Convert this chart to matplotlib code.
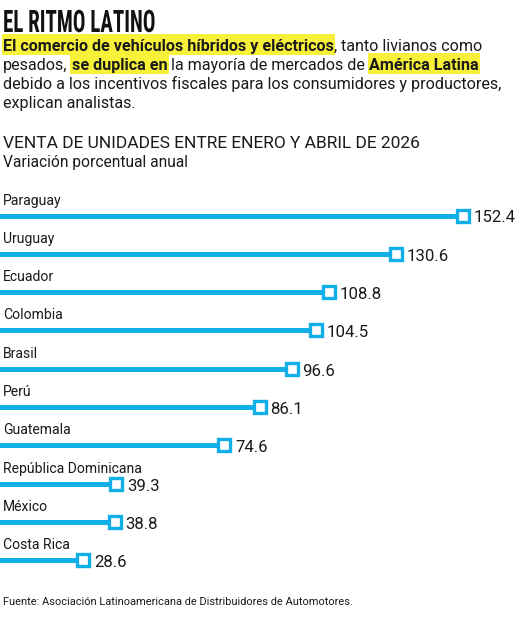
import matplotlib
matplotlib.use("Agg")
import matplotlib.pyplot as plt
from matplotlib import font_manager
from matplotlib.patches import Rectangle
from matplotlib.patheffects import AbstractPathEffect
from matplotlib.transforms import Affine2D

countries = ["Paraguay", "Uruguay", "Ecuador", "Colombia", "Brasil", "Perú",
             "Guatemala", "República Dominicana", "México", "Costa Rica"]
values = [152.4, 130.6, 108.8, 104.5, 96.6, 86.1, 74.6, 39.3, 38.8, 28.6]

title = "EL RITMO LATINO"
intro_lines = [
    [("El comercio de vehículos híbridos y eléctricos", True, False), (",", False, False),
     ("tanto livianos como", False, True)],
    [("pesados,", False, False), ("se duplica en", True, True),
     ("la mayoría de mercados de", False, True), ("América Latina", True, True)],
    [("debido a los incentivos fiscales para los consumidores y productores,", False, False)],
    [("explican analistas.", False, False)],
]
chart_title = "VENTA DE UNIDADES ENTRE ENERO Y ABRIL DE 2026"
chart_sub = "Variación porcentual anual"
source = "Fuente: Asociación Latinoamericana de Distribuidores de Automotores."

BLUE = "#12aee8"
YELLOW = "#f8f13a"
TXT = "#1a1a1a"
W, H = 520, 620

avail = {f.name for f in font_manager.fontManager.ttflist}
BODY = "Roboto" if "Roboto" in avail else "DejaVu Sans"
cond = [n for n in ["Roboto Condensed", "Liberation Sans Narrow", "Roboto", "DejaVu Sans"] if n in avail]
TITLEF = cond[0] if cond else "DejaVu Sans"

plt.rcParams["font.family"] = [BODY, "DejaVu Sans"]

fig = plt.figure(figsize=(5.2, 6.2), dpi=100)
fig.patch.set_facecolor("white")
renderer = fig.canvas.get_renderer()
PX = 72 / 100  # points per pixel


class Squeeze(AbstractPathEffect):
    """Scale text horizontally about a fixed display x."""
    def __init__(self, x0, sx):
        super().__init__()
        self.x0, self.sx = x0, sx

    def draw_path(self, renderer, gc, tpath, affine, rgbFace=None):
        aff = affine + Affine2D().translate(-self.x0, 0).scale(self.sx, 1).translate(self.x0, 0)
        renderer.draw_path(gc, tpath, aff, rgbFace)


def P(x, y):
    return x / W, 1 - y / H


def width_of(s, size, **kw):
    t = fig.text(0, 0, s, fontsize=size, **kw)
    w = t.get_window_extent(renderer).width
    t.remove()
    return w


def fit_size(s, target, **kw):
    return 10 * target / width_of(s, 10, **kw)


def ftext(x, y, s, size, **kw):
    kw.setdefault("family", BODY)
    kw.setdefault("color", TXT)
    return fig.text(*P(x, y), s, fontsize=size, va="baseline", ha="left", **kw)


# Title: condensed heavy caps (cap ~22 px, width ~152 px)
tsz = 22 / 0.711 * PX
tw = width_of(title, tsz, family=TITLEF, fontweight="bold")
ftext(3, 32, title, tsz, family=TITLEF, fontweight="bold", color="#111111",
      path_effects=[Squeeze(3, 152 / tw)])

# Intro rich text
def seg_w(txt, bold, size):
    return width_of(txt, size, family=BODY, fontweight="bold" if bold else "normal")

def sp_w(size):
    return width_of("x x", size, family=BODY) - width_of("xx", size, family=BODY)

nat1 = sum(seg_w(t, b, 10) + (sp_w(10) if s else 0) for t, b, s in intro_lines[0])
isz = 10 * 481 / nat1
sp = sp_w(isz)
baselines = [51, 70, 89, 108]
for tokens, yb in zip(intro_lines, baselines):
    x = 3
    for txt, bold, space in tokens:
        if space:
            x += sp
        t = ftext(x, yb, txt, isz, fontweight="bold" if bold else "normal", zorder=3)
        w = t.get_window_extent(renderer).width
        if bold:
            fig.patches.append(Rectangle(P(x - 1.5, yb + 4), (w + 3) / W, 21 / H,
                                         transform=fig.transFigure, facecolor=YELLOW,
                                         edgecolor="none", zorder=1))
        x += w

# Chart headers and source
ftext(3, 148, chart_title, fit_size(chart_title, 417, family=BODY))
ftext(3, 167, chart_sub, fit_size(chart_sub, 184, family=BODY))
ftext(3, 605, source, fit_size(source, 347, family=BODY))

# Chart axes
top, bot = 190, 585
ax = fig.add_axes([0, 1 - bot / H, 1, (bot - top) / H])
ax.axis("off")
y0, dy = 215.5, 38.3
ax.set_ylim((bot - y0) / dy, (top - y0) / dy)
scale, zero = 3.065, -4.2
ax.set_xlim((0 - zero) / scale, (W - zero) / scale)

lab_size = fit_size("República Dominicana", 139, family=BODY)
val_size = fit_size("152.4", 42, family=BODY)

for i, (c, v) in enumerate(zip(countries, values)):
    ax.plot([0, v], [i, i], color=BLUE, lw=3.6, solid_capstyle="butt", zorder=2)
    ax.plot([v], [i], marker="s", ms=8, mew=2.4, mfc="white", mec=BLUE, zorder=3)
    xd, yd = ax.transData.transform((v, i))
    ybar = H - yd
    ftext(3, ybar - 11, c, lab_size)
    ftext(xd + 10.5, ybar + 7, f"{v:.1f}", val_size)

fig.savefig("out.png", dpi=100, facecolor="white")
